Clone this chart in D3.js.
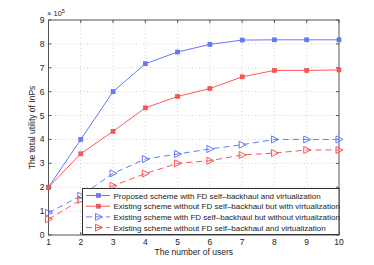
<!DOCTYPE html>
<html>
<head>
<meta charset="utf-8">
<script src="https://cdn.jsdelivr.net/npm/d3@7"></script>
<style>
  body { margin:0; background:#fff; }
  svg { display:block; font-family:"Liberation Sans", Arial, sans-serif; }
</style>
</head>
<body>
<svg id="chart" width="374" height="265"></svg>
<script>
// data (values in units of 10^5)
var users = [1, 2, 3, 4, 5, 6, 7, 8, 9, 10];
var proposed = [2.0, 4.0, 6.0, 7.17, 7.66, 7.98, 8.16, 8.17, 8.17, 8.17];
var withoutFdWithVirt = [2.0, 3.4, 4.34, 5.32, 5.8, 6.13, 6.62, 6.89, 6.89, 6.91];
var withFdWithoutVirt = [0.93, 1.64, 2.58, 3.18, 3.39, 3.6, 3.78, 4.0, 4.0, 4.0];
var withoutBoth = [0.66, 1.47, 2.06, 2.57, 3.0, 3.11, 3.35, 3.43, 3.56, 3.56];
var xTicks = [1, 2, 3, 4, 5, 6, 7, 8, 9, 10];
var yTicks = [0, 1, 2, 3, 4, 5, 6, 7, 8, 9];
var legendLabels = [
  "Proposed scheme with FD self\u2013backhaul and virtualization",
  "Existing scheme without FD self\u2013backhaul but with virtualization",
  "Existing scheme with FD self\u2013backhaul but without virtualization",
  "Existing scheme without FD self\u2013backhaul and virtualization"
];

var blue = "#6479ff", red = "#ff5555";
var series = [
  {vals: proposed, color: blue, dash: null, marker: "star"},
  {vals: withoutFdWithVirt, color: red, dash: null, marker: "star"},
  {vals: withFdWithoutVirt, color: blue, dash: "6,4", marker: "tri"},
  {vals: withoutBoth, color: red, dash: "6,4", marker: "tri"}
];

var svg = d3.select("#chart");
var pLeft = 48.5, pRight = 339, pTop = 20, pBottom = 235;
var x = d3.scaleLinear().domain([1, 10]).range([pLeft, pRight]);
var y = d3.scaleLinear().domain([0, 9]).range([pBottom, pTop]);

// grid
var grid = svg.append("g").attr("stroke", "#c8c8c8").attr("stroke-width", 0.8).attr("stroke-dasharray", "1,2.5");
grid.selectAll(".gx").data(xTicks.slice(1, -1)).enter().append("line")
  .attr("x1", d => x(d)).attr("x2", d => x(d)).attr("y1", pTop).attr("y2", pBottom);
grid.selectAll(".gy").data(yTicks.slice(1, -1)).enter().append("line")
  .attr("x1", pLeft).attr("x2", pRight).attr("y1", d => y(d)).attr("y2", d => y(d));

// frame and inward ticks
var ax = svg.append("g").attr("stroke", "#555").attr("stroke-width", 1).attr("fill", "none");
ax.append("rect").attr("x", pLeft).attr("y", pTop).attr("width", pRight - pLeft).attr("height", pBottom - pTop);
xTicks.forEach(function(d){
  ax.append("line").attr("x1", x(d)).attr("x2", x(d)).attr("y1", pBottom).attr("y2", pBottom - 3);
  ax.append("line").attr("x1", x(d)).attr("x2", x(d)).attr("y1", pTop).attr("y2", pTop + 3);
});
yTicks.forEach(function(d){
  ax.append("line").attr("x1", pLeft).attr("x2", pLeft + 3).attr("y1", y(d)).attr("y2", y(d));
  ax.append("line").attr("x1", pRight).attr("x2", pRight - 3).attr("y1", y(d)).attr("y2", y(d));
});

// tick labels
svg.selectAll(".xt").data(xTicks).enter().append("text")
  .attr("x", d => x(d)).attr("y", 245).attr("text-anchor", "middle")
  .attr("font-size", 8.5).attr("fill", "#222").text(d => d);
svg.selectAll(".yt").data(yTicks).enter().append("text")
  .attr("x", pLeft - 4).attr("y", d => y(d) + 3).attr("text-anchor", "end")
  .attr("font-size", 8.5).attr("fill", "#222").text(d => d);

// exponent
var ex = svg.append("text").attr("x", 47).attr("y", 16).attr("font-size", 7.5).attr("fill", "#222");
ex.append("tspan").text("\u00d7 10");
ex.append("tspan").attr("dy", -3).attr("font-size", 5.5).text("5");

// axis labels
svg.append("text").attr("x", (pLeft + pRight) / 2).attr("y", 255).attr("text-anchor", "middle")
  .attr("font-size", 8.5).attr("fill", "#222").text("The number of users");
svg.append("text").attr("transform", "translate(35," + ((pTop + pBottom) / 2) + ") rotate(-90)")
  .attr("text-anchor", "middle").attr("font-size", 8.5).attr("fill", "#222").text("The total utility of InPs");

var line = d3.line().x((d, i) => x(users[i])).y(d => y(d));

function drawMarker(g, mk, cx, cy, color) {
  if (mk === "star") {
    g.append("rect").attr("x", cx - 2).attr("y", cy - 2).attr("width", 4).attr("height", 4)
      .attr("fill", color).attr("stroke", d3.color(color).darker(0.4)).attr("stroke-width", 0.6);
  } else {
    g.append("path").attr("d", "M" + (cx - 3) + "," + (cy - 3.5) + "L" + (cx + 4) + "," + cy + "L" + (cx - 3) + "," + (cy + 3.5) + "Z")
      .attr("fill", "none").attr("stroke", color).attr("stroke-width", 1);
  }
}

series.forEach(function(s){
  var g = svg.append("g");
  g.append("path").datum(s.vals).attr("d", line).attr("fill", "none")
    .attr("stroke", s.color).attr("stroke-width", 1).attr("stroke-dasharray", s.dash);
  s.vals.forEach(function(v, i){ drawMarker(g, s.marker, x(users[i]), y(v), s.color); });
});

// legend
var lg = svg.append("g");
lg.append("rect").attr("x", 82.5).attr("y", 188.5).attr("width", pRight - 82.5).attr("height", 46)
  .attr("fill", "#fff").attr("stroke", "#333").attr("stroke-width", 1);
legendLabels.forEach(function(t, i){
  var ly = 195.5 + i * 10.7, s = series[i];
  lg.append("line").attr("x1", 86).attr("x2", 110).attr("y1", ly).attr("y2", ly)
    .attr("stroke", s.color).attr("stroke-width", 1).attr("stroke-dasharray", s.dash);
  drawMarker(lg, s.marker, 98.5, ly, s.color);
  lg.append("text").attr("x", 113.5).attr("y", ly + 3).attr("font-size", 8).attr("fill", "#222").text(t);
});
</script>
</body>
</html>
